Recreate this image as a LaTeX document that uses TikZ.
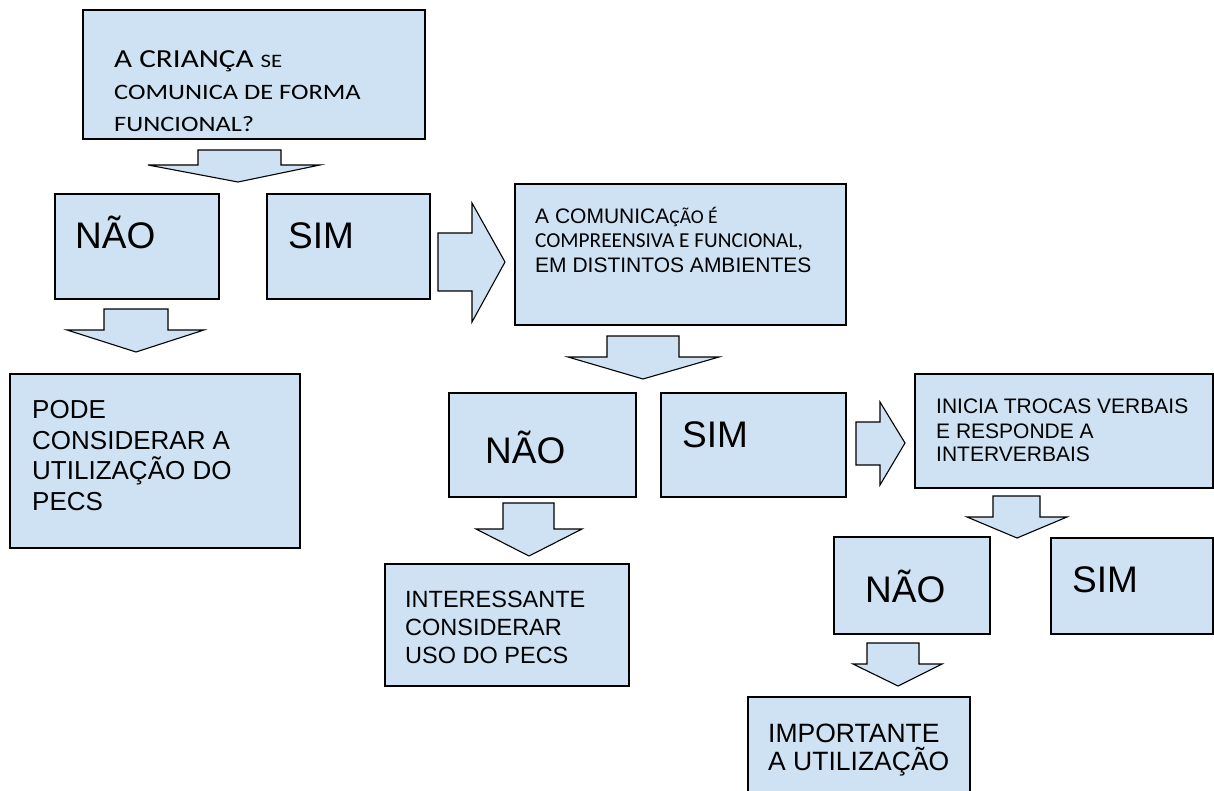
\documentclass[tikz,border=0pt]{standalone}
\usepackage{fontspec}
\setmainfont{Liberation Sans}
\newfontfamily\calfont[FakeStretch=1.2]{Carlito}
\newfontfamily\calplain{Carlito}
\definecolor{boxfill}{HTML}{CFE2F3}
\begin{document}
\begin{tikzpicture}[x=1pt,y=-1pt,
  box/.style={draw=black, line width=1.7pt, fill=boxfill, rectangle, inner sep=0pt, anchor=north west},
  barrow/.style={draw=black, line width=1.1pt, fill=boxfill, line join=miter},
  txt/.style={anchor=base west, inner sep=0pt, text=black},
  big/.style={txt, font=\fontsize{37}{44}\selectfont},
  mid/.style={txt, font=\fontsize{21}{25}\selectfont},
]
\useasboundingbox (0,0) rectangle (1214,791);
\clip (0,0) rectangle (1214,791);

% boxes
\node[box, minimum width=342pt, minimum height=129pt] (q1) at (82,9) {};
\node[box, minimum width=164pt, minimum height=105pt] (nao1) at (54,193) {};
\node[box, minimum width=163pt, minimum height=105pt] (sim1) at (266,193) {};
\node[box, minimum width=290pt, minimum height=174pt] (pode) at (9,373) {};
\node[box, minimum width=331pt, minimum height=141pt] (q2) at (514,183) {};
\node[box, minimum width=187pt, minimum height=104pt] (nao2) at (448,392) {};
\node[box, minimum width=185pt, minimum height=104pt] (sim2) at (660,392) {};
\node[box, minimum width=244pt, minimum height=122pt] (inter) at (384,563) {};
\node[box, minimum width=298pt, minimum height=114pt] (q3) at (914,373) {};
\node[box, minimum width=156pt, minimum height=97pt] (nao3) at (833,536) {};
\node[box, minimum width=162pt, minimum height=96pt] (sim3) at (1050,537) {};
\node[box, minimum width=222pt, minimum height=130pt] (imp) at (747,696) {};

% down block arrows
\draw[barrow] (198,150) -- (281,150) -- (281,165) -- (320,165) -- (238,182) -- (148,165) -- (198,165) -- cycle;
\draw[barrow] (104,309) -- (168,309) -- (168,330) -- (204,330) -- (136,352) -- (67,330) -- (104,330) -- cycle;
\draw[barrow] (607,336) -- (679,336) -- (679,357) -- (719,357) -- (643,379) -- (568,357) -- (607,357) -- cycle;
\draw[barrow] (503,503) -- (554,503) -- (554,529) -- (582,529) -- (529,556) -- (476,529) -- (503,529) -- cycle;
\draw[barrow] (993,496) -- (1040,496) -- (1040,517) -- (1067,517) -- (1017,538) -- (967,517) -- (993,517) -- cycle;
\draw[barrow] (867,643) -- (919,643) -- (919,664) -- (942,664) -- (898,686) -- (853,664) -- (867,664) -- cycle;

% right block arrows
\draw[barrow] (438,233) -- (472,233) -- (472,203) -- (505,262) -- (472,322) -- (472,291) -- (438,291) -- cycle;
\draw[barrow] (856,422) -- (880,422) -- (880,402) -- (905,443) -- (880,485) -- (880,465) -- (856,465) -- cycle;

% texts
\node[txt, font=\calfont\fontsize{26}{30}\selectfont] (q1a) at (114,67.7) {A CRIANÇA {\fontsize{19}{30}\selectfont SE}};
\node[txt, font=\calfont\fontsize{22}{30}\selectfont] (q1b) at (114,100) {COMUNICA DE FORMA};
\node[txt, font=\calfont\fontsize{22}{30}\selectfont] (q1c) at (114,131.7) {FUNCIONAL?};

\node[big] (nao1t) at (75,249) {NÃO};
\node[big] (sim1t) at (288,249) {SIM};

\node[txt, font=\fontsize{26}{30}\selectfont] (podea) at (32,418) {PODE};
\node[txt, font=\fontsize{26}{30}\selectfont] (podeb) at (32,449) {CONSIDERAR A};
\node[txt, font=\fontsize{26}{30}\selectfont] (podec) at (32,479) {UTILIZAÇÃO DO};
\node[txt, font=\fontsize{26}{30}\selectfont] (poded) at (32,510) {PECS};

\node[mid] (q2a) at (535,223.3) {A COMUNICA{\calplain\fontsize{19.5}{25}\selectfont ÇÃO É}};
\node[txt, font=\calplain\fontsize{21.3}{25}\selectfont] (q2b) at (535,247.3) {COMPREENSIVA E FUNCIONAL,};
\node[mid] (q2c) at (535,272.7) {EM DISTINTOS AMBIENTES};

\node[big] (nao2t) at (485,463) {NÃO};
\node[big] (sim2t) at (682,447) {SIM};

\node[txt, font=\fontsize{23.5}{28}\selectfont] (intera) at (405,607) {INTERESSANTE};
\node[txt, font=\fontsize{23.5}{28}\selectfont] (interb) at (405,635) {CONSIDERAR};
\node[txt, font=\fontsize{23.5}{28}\selectfont] (interc) at (405,663) {USO DO PECS};

\node[mid] (q3a) at (936,413.3) {INICIA TROCAS VERBAIS};
\node[mid] (q3b) at (936,438.3) {E RESPONDE A};
\node[mid] (q3c) at (936,461.7) {INTERVERBAIS};

\node[big] (nao3t) at (865,602) {NÃO};
\node[big] (sim3t) at (1072,592) {SIM};

\node[txt, font=\fontsize{26.5}{28}\selectfont] (impa) at (768,742) {IMPORTANTE};
\node[txt, font=\fontsize{26.5}{28}\selectfont] (impb) at (768,770) {A UTILIZAÇÃO};
\end{tikzpicture}
\end{document}
